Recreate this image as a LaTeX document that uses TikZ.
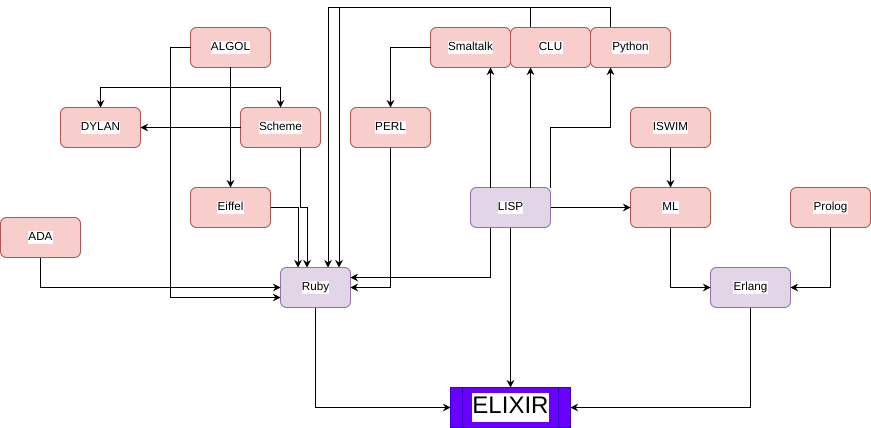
\documentclass[tikz,border=0pt]{standalone}
\usepackage{fontspec}
\setmainfont{Liberation Sans}
\usetikzlibrary{arrows.meta,calc}
\definecolor{pinkfill}{HTML}{F8CECC}
\definecolor{pinkdraw}{HTML}{B85450}
\definecolor{lilacfill}{HTML}{E1D5E7}
\definecolor{lilacdraw}{HTML}{9673A6}
\definecolor{elixfill}{HTML}{6A00FF}
\definecolor{elixdraw}{HTML}{3700CC}
\newcommand{\lbl}[1]{{\setlength\fboxsep{0.3pt}\colorbox{white}{\strut #1}}}
\begin{document}
\begin{tikzpicture}[x=1pt,y=-1pt,
  base/.style={rectangle,rounded corners=6pt,minimum width=80pt,minimum height=40pt,inner sep=0pt,outer sep=0pt,line width=0.9pt,font=\fontsize{11.7}{13}\selectfont},
  lang/.style={base,fill=pinkfill,draw=pinkdraw},
  mid/.style={base,fill=lilacfill,draw=lilacdraw},
  goal/.style={rectangle,minimum width=120pt,minimum height=40pt,inner sep=0pt,outer sep=0pt,fill=elixfill,draw=elixdraw,line width=0.9pt,font=\fontsize{24}{29}\selectfont},
  conn/.style={line width=0.9pt,-{Stealth[length=7.5pt,width=7.5pt,inset=2.5pt]}}]
\useasboundingbox (0,0) rectangle (871,428);

\node[lang] (algol) at (230.5,47.5) {\lbl{ALGOL}};
\node[lang] (dylan) at (100.5,127.5) {\lbl{DYLAN}};
\node[lang] (scheme) at (280.5,127.5) {\lbl{Scheme}};
\node[lang] (eiffel) at (230.5,207.5) {\lbl{Eiffel}};
\node[lang] (ada) at (40.5,237.5) {\lbl{ADA}};
\node[mid,minimum width=70pt] (ruby) at (315.5,287.5) {\lbl{Ruby}};
\node[lang] (perl) at (390.5,127.5) {\lbl{PERL}};
\node[lang] (smalltalk) at (470.5,47.5) {\lbl{Smaltalk}};
\node[lang] (clu) at (550.5,47.5) {\lbl{CLU}};
\node[lang] (python) at (630.5,47.5) {\lbl{Python}};
\node[mid] (lisp) at (510.5,207.5) {\lbl{LISP}};
\node[lang] (iswim) at (670.5,127.5) {\lbl{ISWIM}};
\node[lang] (ml) at (670.5,207.5) {\lbl{ML}};
\node[lang] (prolog) at (830.5,207.5) {\lbl{Prolog}};
\node[mid] (erlang) at (750.5,287.5) {\lbl{Erlang}};
\node[goal] (elixir) at (510.5,407.5) {\lbl{ELIXIR}};
\draw[elixdraw,line width=0.9pt] ([xshift=12pt]elixir.north west) -- ([xshift=12pt]elixir.south west);
\draw[elixdraw,line width=0.9pt] ([xshift=-12pt]elixir.north east) -- ([xshift=-12pt]elixir.south east);

% ALGOL
\draw[conn] (algol.south) -- ++(0,20) -| (dylan.north);
\draw[conn] (algol.south) -- ++(0,20) -| (scheme.north);
\draw[conn] (algol.south) -- (eiffel.north);
\draw[conn] (algol.west) -- ++(-20,0) |- ($(ruby.west)+(0,10)$);
% Scheme
\draw[conn] (scheme.west) -- (dylan.east);
\draw[conn] ($(scheme.south)+(20,0)$) -- ++(0,60) -| ($(ruby.north)+(-8.5,0)$);
% Eiffel, ADA
\draw[conn] (eiffel.east) -| ($(ruby.north)+(-17.5,0)$);
\draw[conn] (ada.south) |- (ruby.west);
% CLU, Python to Ruby
\draw[conn] ($(clu.north)+(-20,0)$) -- ++(0,-20) -| ($(ruby.north)+(12.5,0)$);
\draw[conn] ($(python.north)+(-20,0)$) -- ++(0,-20) -| ($(ruby.north)+(23.5,0)$);
% PERL, Smalltalk
\draw[conn] (perl.south) |- (ruby.east);
\draw[conn] (smalltalk.west) -| (perl.north);
% LISP
\draw[conn] ($(lisp.south)+(-20,0)$) |- ($(ruby.east)+(0,-10)$);
\draw[conn] ($(lisp.north)+(-20,0)$) -- ($(smalltalk.south)+(20,0)$);
\draw[conn] ($(lisp.north)+(20,0)$) -- ($(clu.south)+(-20,0)$);
\draw[conn] (lisp.north east) -- ++(0,-60) -| ($(python.south)+(-20,0)$);
\draw[conn] (lisp.east) -- (ml.west);
\draw[conn] (lisp.south) -- (elixir.north);
% ML family
\draw[conn] (iswim.south) -- (ml.north);
\draw[conn] (ml.south) |- (erlang.west);
\draw[conn] (prolog.south) |- (erlang.east);
% to ELIXIR
\draw[conn] (erlang.south) |- (elixir.east);
\draw[conn] (ruby.south) |- (elixir.west);
\end{tikzpicture}
\end{document}
